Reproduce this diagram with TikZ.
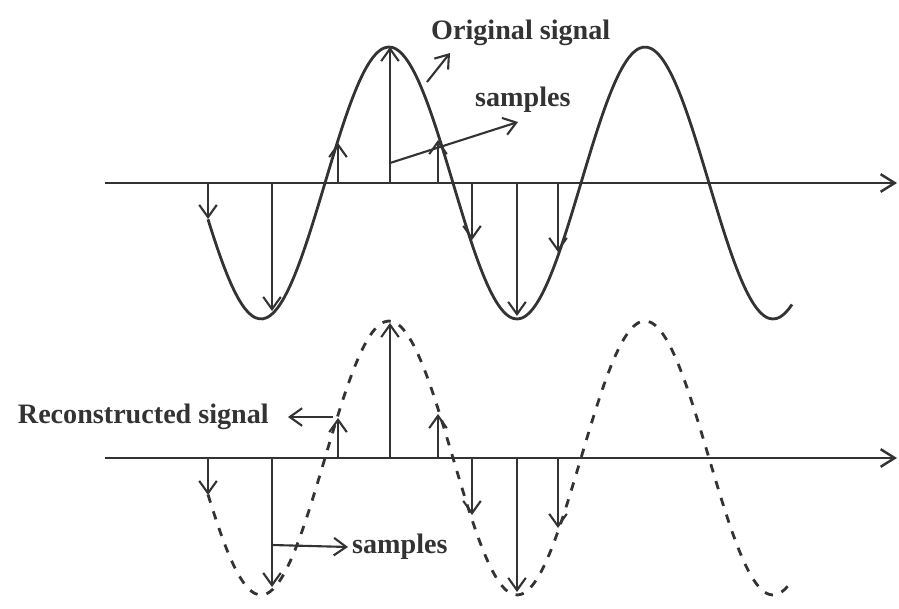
\documentclass[tikz,border=0pt]{standalone}
\usepackage{fontspec}
\setmainfont{Liberation Serif}
\usepackage{tikz}
\usetikzlibrary{arrows.meta}

\begin{document}
\begin{tikzpicture}[
  x=0.01cm, y=-0.01cm,
  font=\fontsize{8}{9.6}\selectfont\bfseries,
  ax/.style={draw=black!80, line width=0.7pt, -{Straight Barb[length=4pt,width=5pt]}},
  sig/.style={draw=black!80, line width=0.8pt, domain=208:792, samples=150, smooth},
  rec/.style={sig, dash pattern=on 2.4pt off 2.6pt},
  smp/.style={draw=black!80, line width=0.6pt, -{Straight Barb[length=3.5pt,width=5pt]}},
  lb/.style={text=black!80, inner sep=1pt},
  la/.style={smp},
]
\useasboundingbox (0,0) rectangle (899,609);
% original signal
\draw[ax] (105,183) -- (897,183);
\draw[sig] plot (\x, {183-136*sin((\x-325)/128*180)});
\draw[smp] (208,183) -- (208,219);
\draw[smp] (272,183) -- (272,311);
\draw[smp] (338,183) -- (338,143);
\draw[smp] (390,183) -- (390,47);
\draw[smp] (438,183) -- (438,140);
\draw[smp] (472,183) -- (472,240);
\draw[smp] (517,183) -- (517,316);
\draw[smp] (558,183) -- (558,252);
\node[lb, anchor=west] (orig) at (427,33) {Original signal};
\node[lb, anchor=west] (smpa) at (471,100) {samples};
\coordinate (origpt) at (427,82);
\coordinate (origend) at (450,53);
\coordinate (smpapt) at (390,163);
\coordinate (smpaend) at (518,122);
\draw[la] (origpt) -- (origend);
\draw[la] (smpapt) -- (smpaend);
% reconstructed signal
\draw[ax] (105,458) -- (897,458);
\draw[rec] plot (\x, {458-137*sin((\x-325)/128*180)});
\draw[smp] (208,458) -- (208,495);
\draw[smp] (272,458) -- (272,587);
\draw[smp] (338,458) -- (338,418);
\draw[smp] (390,458) -- (390,323);
\draw[smp] (438,458) -- (438,414);
\draw[smp] (472,458) -- (472,515);
\draw[smp] (517,458) -- (517,592);
\draw[smp] (558,458) -- (558,528);
\node[lb, anchor=east] (recon) at (273,417) {Reconstructed signal};
\node[lb, anchor=west] (smpb) at (348,547) {samples};
\coordinate (reconpt) at (333,417);
\coordinate (reconend) at (288,417);
\coordinate (smpbpt) at (272,545);
\draw[la] (reconpt) -- (reconend);
\draw[la] (smpbpt) -- (smpb.west);
\end{tikzpicture}
\end{document}
